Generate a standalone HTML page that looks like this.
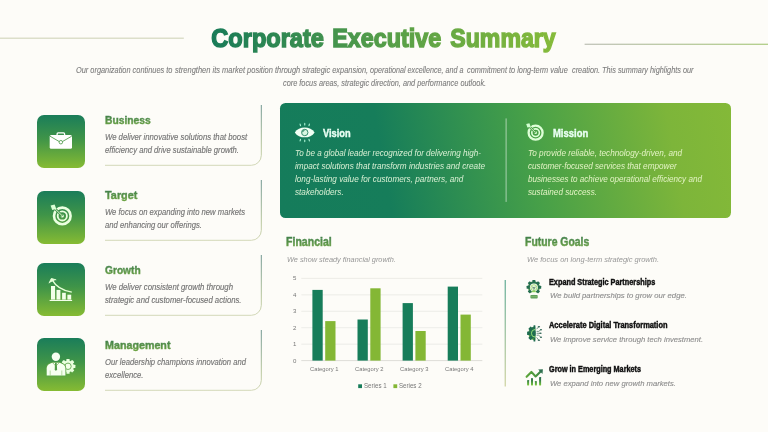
<!DOCTYPE html>
<html lang="en"><head><meta charset="utf-8"><title>Corporate Executive Summary</title>
<style>
html,body{margin:0;padding:0;background:#fdfcf8;}
#slide{position:relative;width:768px;height:432px;overflow:hidden;background:#fdfcf8;font-family:"Liberation Sans",sans-serif;}
.t{position:absolute;white-space:nowrap;line-height:1;transform-origin:0 0;display:block;}
.b{font-weight:bold;}
.i{font-style:italic;}
.r{font-weight:normal;}
.ttl,.hd{padding:0.1em 0.1em 0.3em 0.1em;margin:-0.1em -0.1em -0.3em -0.1em;}
.ttl{-webkit-text-stroke:1.5px transparent;background:linear-gradient(90deg,#177a58 0%,#4f9a4a 45%,#86bb3a 100%);-webkit-background-clip:text;background-clip:text;color:transparent;}
.sub{color:#7c7c7c;-webkit-text-stroke:0.1px #7c7c7c;}
.hc{-webkit-text-stroke:0.45px transparent;}
.h2{-webkit-text-stroke:0.5px transparent;}
.hd{background:linear-gradient(180deg,#44824a 15%,#76ab44 90%);-webkit-background-clip:text;background-clip:text;color:transparent;}
.desc{color:#737373;-webkit-text-stroke:0.15px #737373;}
.l2{color:#979797 !important;-webkit-text-stroke:0 !important;}
.lite{color:#8c8c8c;-webkit-text-stroke:0.12px #8c8c8c;}
.wh{color:#eafff4;-webkit-text-stroke:0.4px #eafff4;}
.pv{color:#d9f0d4;}
.pm{color:#e3f3c4;}
.blk{color:#111111;-webkit-text-stroke:0.45px #111;}
.ax{color:#777777;}
.ibox{position:absolute;left:37.2px;width:47.8px;height:53px;border-radius:7px;background:linear-gradient(180deg,#1a7d5a 0%,#3f9448 45%,#86bb33 100%);}
#panel{position:absolute;left:279.8px;top:102.7px;width:451.3px;height:115.1px;border-radius:5.5px;background:linear-gradient(80deg,#157c5b 0%,#167d5a 24%,#47a048 56%,#7db53a 86%,#84b938 100%);}
svg{position:absolute;left:0;top:0;}

</style></head>
<body>
<div id="slide">
<div class="ibox" style="top:114.5px"></div>
<div class="ibox" style="top:190.5px"></div>
<div class="ibox" style="top:263.4px"></div>
<div class="ibox" style="top:337.8px"></div>
<div id="panel"></div>
<svg width="768" height="432" viewBox="0 0 768 432">
<defs>
<linearGradient id="gr" x1="0" y1="0" x2="1" y2="0"><stop offset="0" stop-color="#b6b9ae"/><stop offset="1" stop-color="#a2c572"/></linearGradient>
<linearGradient id="gb" x1="0" y1="0" x2="0" y2="1"><stop offset="0" stop-color="#6f9690"/><stop offset="0.7" stop-color="#b7c69c"/><stop offset="1" stop-color="#d3d8b8"/></linearGradient>
<linearGradient id="gv" x1="0" y1="0" x2="0" y2="1"><stop offset="0" stop-color="#3f9a80"/><stop offset="1" stop-color="#c3c98c"/></linearGradient>
<linearGradient id="gi" x1="0" y1="0" x2="0" y2="1"><stop offset="0" stop-color="#1f7d55"/><stop offset="1" stop-color="#86c03a"/></linearGradient>
<linearGradient id="gi1" gradientUnits="userSpaceOnUse" x1="0" y1="280" x2="0" y2="295"><stop offset="0" stop-color="#256e50"/><stop offset="0.55" stop-color="#4f9650"/><stop offset="1" stop-color="#90c860"/></linearGradient>
<linearGradient id="gi2" gradientUnits="userSpaceOnUse" x1="0" y1="325" x2="0" y2="341.5"><stop offset="0" stop-color="#1f6c50"/><stop offset="1" stop-color="#66b23a"/></linearGradient>
<linearGradient id="gi3" gradientUnits="userSpaceOnUse" x1="526" y1="0" x2="543" y2="0"><stop offset="0" stop-color="#5ea63a"/><stop offset="0.6" stop-color="#4a963f"/><stop offset="1" stop-color="#2f7350"/></linearGradient>
<linearGradient id="gi4" gradientUnits="userSpaceOnUse" x1="0" y1="377" x2="0" y2="385.5"><stop offset="0" stop-color="#286a50"/><stop offset="0.45" stop-color="#3d8448"/><stop offset="1" stop-color="#7ccc3c"/></linearGradient>
</defs>
<!-- title rules -->
<rect x="0" y="37.6" width="183.8" height="1.2" fill="#d4d7bf"/>
<rect x="584.6" y="43.7" width="183.4" height="1.1" fill="url(#gr)"/>
<!-- brackets -->
<g fill="none" stroke="url(#gb)" stroke-width="1">
<path d="M261.3 105V155.3a10 10 0 0 1 -10 10H105"/>
<path d="M261.3 180V230.3a10 10 0 0 1 -10 10H105"/>
<path d="M261.3 255V305.3a10 10 0 0 1 -10 10H105"/>
<path d="M261.3 330V380.3a10 10 0 0 1 -10 10H105"/>
</g>
<!-- panel divider -->
<rect x="505.6" y="118.4" width="1" height="83.5" fill="#ffffff" fill-opacity="0.55"/>
<!-- lower divider -->
<rect x="504.7" y="280" width="1" height="106.5" fill="url(#gv)"/>
<!-- chart -->
<g stroke="#e8e8e3" stroke-width="0.8">
<path d="M301.3 278.4H482.3M301.3 294.8H482.3M301.3 311.3H482.3M301.3 327.7H482.3M301.3 344.2H482.3"/>
</g>
<path d="M301.3 360.6H482.3" stroke="#d4d4cf" stroke-width="0.8"/>
<g fill="#177d5a">
<rect x="312.4" y="289.9" width="10.3" height="70.7"/>
<rect x="357.5" y="319.5" width="10.3" height="41.1"/>
<rect x="402.6" y="303.1" width="10.3" height="57.5"/>
<rect x="447.7" y="286.6" width="10.3" height="74"/>
<rect x="358.2" y="384.3" width="3.8" height="3.8"/>
</g>
<g fill="#84b735">
<rect x="325.2" y="321.1" width="10.3" height="39.5"/>
<rect x="370.3" y="288.3" width="10.3" height="72.3"/>
<rect x="415.4" y="331" width="10.3" height="29.6"/>
<rect x="460.5" y="314.6" width="10.3" height="46"/>
<rect x="393.4" y="384.3" width="3.8" height="3.8"/>
</g>
<!-- briefcase -->
<g>
<path d="M57.1 135.3V133.9a1 1 0 0 1 1-1h5.5a1 1 0 0 1 1 1v1.4" fill="none" stroke="#fff" stroke-width="1.3"/>
<rect x="49.7" y="135" width="22.3" height="13.7" rx="1.5" fill="#fff"/>
<path d="M50 136.2L59.3 141.6M71.7 136.2L62.4 141.6" fill="none" stroke="#4a9947" stroke-width="0.85"/>
<circle cx="60.85" cy="142.2" r="1.75" fill="#fff" stroke="#4a9947" stroke-width="0.85"/>
</g>
<!-- target -->
<g>
<circle cx="62.3" cy="215.9" r="8.3" fill="none" stroke="#ebffe0" stroke-width="2.6"/>
<circle cx="62.3" cy="215.9" r="4.6" fill="none" stroke="#ebffe0" stroke-width="1.8"/>
<circle cx="62.3" cy="215.9" r="1.6" fill="#ebffe0"/>
<path d="M53.6 207.4L62.3 215.9" stroke="#44964a" stroke-width="2.6" fill="none"/>
<path d="M54.5 208.3L62.1 215.7" stroke="#ebffe0" stroke-width="0.9" fill="none"/>
<path d="M50.6 205.6L54.6 204.6L56.3 209L52.2 209.9Z" fill="#dcffd6"/>
</g>
<!-- growth -->
<g fill="#f3ffe9">
<rect x="51" y="286" width="4.1" height="13.6"/>
<rect x="56.5" y="289.9" width="3.9" height="9.7"/>
<rect x="62.1" y="292.8" width="3.7" height="6.8"/>
<rect x="67.4" y="294.7" width="3.8" height="4.9"/>
<rect x="49.6" y="299.9" width="22.5" height="1.1"/>
<path d="M71.8 292.1C62 290.5 55.5 286 52 279.6" fill="none" stroke="#e6ffd8" stroke-width="1.35"/>
<path d="M49.2 282.9L51.3 278.5L55.9 279.8" fill="#e6ffd8" stroke="#e6ffd8" stroke-width="1.0" stroke-linejoin="round" stroke-linecap="round"/>
</g>
<!-- management -->
<g>
<g fill="#e9ffde">
<circle cx="68" cy="366.3" r="5.9"/>
<g transform="translate(68 366.3)">
<rect x="-1.6" y="-7.4" width="3.2" height="14.8" rx="0.5"/>
<rect x="-1.6" y="-7.4" width="3.2" height="14.8" rx="0.5" transform="rotate(45)"/>
<rect x="-1.6" y="-7.4" width="3.2" height="14.8" rx="0.5" transform="rotate(90)"/>
<rect x="-1.6" y="-7.4" width="3.2" height="14.8" rx="0.5" transform="rotate(135)"/>
</g>
</g>
<circle cx="68" cy="366.3" r="3.2" fill="#f3ffe9" stroke="#55a044" stroke-width="0.8"/>
<path d="M45.9 376.4V368.6C45.9 364.6 49 362.6 52.6 362.1H59.2C62.8 362.6 66.2 364.6 66.2 368.6V376.4Z" fill="#5aa343"/>
<path d="M46.7 375.6V368.6C46.7 365.1 49.5 363.3 52.8 362.8H59C62.3 363.3 65.4 365.1 65.4 368.6V375.6Z" fill="#f6fff0"/>
<circle cx="55.9" cy="356.8" r="4.2" fill="#f6fff0"/>
<path d="M55.1 362.8H56.7L57.1 369.6L55.9 371L54.7 369.6Z" fill="#4f9c46"/>
<path d="M52.8 362.9L55.9 366.2L59 362.9" fill="none" stroke="#5aa343" stroke-width="0.6"/>
<path d="M50.2 370.5V375.6M61.8 370.5V375.6" stroke="#8cc56e" stroke-width="0.6"/>
</g>
<!-- eye -->
<g>
<path d="M294.8 132.4C298.8 125.8 310.6 125.8 314.6 132.4C310.6 139 298.8 139 294.8 132.4Z" fill="#f1fff4"/>
<circle cx="304.75" cy="132.5" r="3.2" fill="#d9f7e2" stroke="#1b7a59" stroke-width="0.85"/>
<path d="M302.6 132.3A2.1 2.1 0 0 1 304.6 130.3" fill="none" stroke="#1b7a59" stroke-width="0.9"/>
<g stroke="#a6f2d2" stroke-width="1.15" stroke-linecap="round">
<path d="M300.5 125.6L300.1 124.1M304.75 125L304.75 123.4M309 125.6L309.4 124.1"/>
<path d="M300.5 139.4L300.1 140.9M304.75 140L304.75 141.6M309 139.4L309.4 140.9"/>
</g>
</g>
<!-- mission target -->
<g>
<circle cx="535.6" cy="132.7" r="7" fill="none" stroke="#dfffd8" stroke-width="2.3"/>
<circle cx="535.6" cy="132.7" r="3.8" fill="none" stroke="#dfffd8" stroke-width="1.6"/>
<circle cx="535.6" cy="132.7" r="1.4" fill="#dfffd8"/>
<path d="M528.2 125.4L535.6 132.7" stroke="#4ea048" stroke-width="2.2" fill="none"/>
<path d="M529 126.2L535.4 132.5" stroke="#dfffd8" stroke-width="0.8" fill="none"/>
<path d="M526.2 124L529.4 123.3L530.8 126.9L527.4 127.6Z" fill="#d2ffd0"/>
</g>
<!-- goal icon 1: gear + bulb -->
<g>
<g fill="url(#gi1)">
<circle cx="533.9" cy="287.3" r="6"/>
<g transform="translate(533.9 287.3)">
<rect x="-1.5" y="-7.3" width="3" height="14.6" rx="0.5"/>
<rect x="-1.5" y="-7.3" width="3" height="14.6" rx="0.5" transform="rotate(45)"/>
<rect x="-1.5" y="-7.3" width="3" height="14.6" rx="0.5" transform="rotate(90)"/>
<rect x="-1.5" y="-7.3" width="3" height="14.6" rx="0.5" transform="rotate(135)"/>
</g>
</g>
<circle cx="533.9" cy="287.6" r="4" fill="#fbfdf4"/>
<rect x="531.8" y="290.6" width="4.2" height="4.3" fill="#fbfdf4"/>
<circle cx="533.9" cy="287.7" r="3" fill="#f1fbe4" stroke="#93d863" stroke-width="0.8"/>
<path d="M532.5 286.6L533.2 288.6L533.9 286.9L534.6 288.6L535.3 286.6M533.9 288.8V290.6" fill="none" stroke="#356f4c" stroke-width="0.6"/>
<rect x="532" y="291" width="3.8" height="1.2" fill="#8ccf5c"/>
<rect x="530.4" y="294.9" width="7.3" height="3.6" rx="0.9" fill="#5f9f5c"/>
<path d="M530.4 296.7H537.7" stroke="#9fd07c" stroke-width="0.5"/>
</g>
<!-- goal icon 2: half gear + circuits -->
<g>
<clipPath id="cpL"><rect x="520" y="320" width="15.3" height="30"/></clipPath>
<g clip-path="url(#cpL)">
<g fill="url(#gi2)">
<circle cx="535.2" cy="333.3" r="6.9"/>
<g transform="translate(535.2 333.3)">
<rect x="-1.7" y="-8.1" width="3.4" height="16.2" rx="0.5"/>
<rect x="-1.7" y="-8.1" width="3.4" height="16.2" rx="0.5" transform="rotate(45)"/>
<rect x="-1.7" y="-8.1" width="3.4" height="16.2" rx="0.5" transform="rotate(90)"/>
<rect x="-1.7" y="-8.1" width="3.4" height="16.2" rx="0.5" transform="rotate(135)"/>
</g>
</g>
<circle cx="535.2" cy="333.3" r="3.8" fill="none" stroke="#a2ee7c" stroke-width="0.9"/>
</g>
<g stroke="#3d6f5a" stroke-width="0.7" fill="none">
<path d="M536.6 329.2L538.6 326.9"/>
<path d="M536.6 331.4H538.6L540.6 330"/>
<path d="M536.6 333.3H540"/>
<path d="M536.6 335.2H538.6L540.6 337"/>
<path d="M536.6 337.4L538.6 340"/>
</g>
<g fill="#35695a">
<ellipse cx="538.9" cy="326.7" rx="1.2" ry="0.8"/><ellipse cx="541" cy="329.8" rx="1.1" ry="0.8"/><ellipse cx="540.5" cy="333.3" rx="1.2" ry="0.8"/><ellipse cx="541" cy="337.2" rx="1.1" ry="0.8"/><ellipse cx="538.9" cy="340.3" rx="1.2" ry="0.8"/>
</g>
</g>
<!-- goal icon 3: chart arrow -->
<g>
<path d="M526.6 376.8L531.4 371.9L535.6 376.5L540.9 371.2" fill="none" stroke="url(#gi3)" stroke-width="2.1" stroke-linejoin="round" stroke-linecap="round"/>
<path d="M538.2 369.6L542.9 369.2L542.5 373.9Z" fill="#2f7050"/>
<g fill="url(#gi4)">
<rect x="527.1" y="380" width="2" height="5.5" rx="0.4"/>
<rect x="531" y="378" width="2" height="7.5" rx="0.4"/>
<rect x="534.9" y="381.1" width="2" height="4.4" rx="0.4"/>
<rect x="539.1" y="377" width="2" height="8.5" rx="0.4"/>
</g>
</g>

</svg>

<span class="t b ttl" style="left:211.30px;top:25.25px;font-size:26.4px;transform:scaleX(0.8921);background-image:linear-gradient(90deg,#177a58,#2b8653,#40914e);">Corporate</span>
<span class="t b ttl" style="left:332.40px;top:25.25px;font-size:26.4px;transform:scaleX(0.8829);background-image:linear-gradient(90deg,#43934d,#559e48,#65a744);">Executive</span>
<span class="t b ttl" style="left:450.60px;top:25.25px;font-size:26.4px;transform:scaleX(0.8763);background-image:linear-gradient(90deg,#67a943,#77b23e,#86bb3a);">Summary</span>
<span class="t i sub" style="left:76.00px;top:66.37px;font-size:8.3px;transform:scaleX(0.8894);">Our organization continues to</span>
<span class="t i sub" style="left:174.75px;top:66.37px;font-size:8.3px;transform:scaleX(0.9038);">strengthen its market position</span>
<span class="t i sub" style="left:274.70px;top:66.37px;font-size:8.3px;transform:scaleX(0.8930);">through strategic expansion,</span>
<span class="t i sub" style="left:370.20px;top:66.37px;font-size:8.3px;transform:scaleX(0.8662);">operational excellence, and a</span>
<span class="t i sub" style="left:466.70px;top:66.37px;font-size:8.3px;transform:scaleX(0.8849);">commitment to long-term value</span>
<span class="t i sub" style="left:571.50px;top:66.37px;font-size:8.3px;transform:scaleX(0.8812);">creation. This summary highlights our</span>
<span class="t i sub" style="left:282.50px;top:78.57px;font-size:8.3px;transform:scaleX(0.8843);">core focus areas, strategic direction, and performance outlook.</span>
<span class="t b hd hc" style="left:105.10px;top:115.46px;font-size:10.8px;transform:scaleX(0.9518);">Business</span>
<span class="t i desc" style="left:105.00px;top:133.15px;font-size:8.8px;transform:scaleX(0.8794);">We deliver innovative solutions that boost</span>
<span class="t i desc" style="left:105.00px;top:146.45px;font-size:8.8px;transform:scaleX(0.8727);">efficiency and drive sustainable growth.</span>
<span class="t b hd hc" style="left:105.10px;top:190.46px;font-size:10.8px;transform:scaleX(0.9999);">Target</span>
<span class="t i desc" style="left:105.00px;top:208.15px;font-size:8.8px;transform:scaleX(0.8711);">We focus on expanding into new markets</span>
<span class="t i desc" style="left:105.00px;top:221.45px;font-size:8.8px;transform:scaleX(0.8689);">and enhancing our offerings.</span>
<span class="t b hd hc" style="left:105.10px;top:265.46px;font-size:10.8px;transform:scaleX(0.9419);">Growth</span>
<span class="t i desc" style="left:105.00px;top:283.15px;font-size:8.8px;transform:scaleX(0.8853);">We deliver consistent growth through</span>
<span class="t i desc" style="left:105.00px;top:296.45px;font-size:8.8px;transform:scaleX(0.8787);">strategic and customer-focused actions.</span>
<span class="t b hd hc" style="left:105.10px;top:340.46px;font-size:10.8px;transform:scaleX(0.9909);">Management</span>
<span class="t i desc" style="left:105.00px;top:358.15px;font-size:8.8px;transform:scaleX(0.8684);">Our leadership champions innovation and</span>
<span class="t i desc" style="left:105.00px;top:371.45px;font-size:8.8px;transform:scaleX(0.8727);">excellence.</span>
<span class="t b wh" style="left:323.40px;top:127.84px;font-size:10.7px;transform:scaleX(0.8659);">Vision</span>
<span class="t b wh" style="left:552.80px;top:127.84px;font-size:10.7px;transform:scaleX(0.8845);">Mission</span>
<span class="t i pv" style="left:295.00px;top:149.43px;font-size:9.3px;transform:scaleX(0.8707);">To be a global leader recognized for delivering high-</span>
<span class="t i pv" style="left:295.00px;top:162.13px;font-size:9.3px;transform:scaleX(0.8817);">impact solutions that transform industries and create</span>
<span class="t i pv" style="left:295.00px;top:174.83px;font-size:9.3px;transform:scaleX(0.8807);">long-lasting value for customers, partners, and</span>
<span class="t i pv" style="left:295.00px;top:187.53px;font-size:9.3px;transform:scaleX(0.8807);">stakeholders.</span>
<span class="t i pm" style="left:527.90px;top:149.43px;font-size:9.3px;transform:scaleX(0.8813);">To provide reliable, technology-driven, and</span>
<span class="t i pm" style="left:527.90px;top:162.13px;font-size:9.3px;transform:scaleX(0.8783);">customer-focused services that empower</span>
<span class="t i pm" style="left:527.90px;top:174.83px;font-size:9.3px;transform:scaleX(0.8717);">businesses to achieve operational efficiency and</span>
<span class="t i pm" style="left:527.90px;top:187.53px;font-size:9.3px;transform:scaleX(0.8783);">sustained success.</span>
<span class="t b hd h2" style="left:285.90px;top:235.87px;font-size:12.2px;transform:scaleX(0.8651);">Financial</span>
<span class="t i lite l2" style="left:286.90px;top:256.07px;font-size:7.0px;transform:scaleX(1.0495);">We show steady financial growth.</span>
<span class="t b hd h2" style="left:525.30px;top:235.87px;font-size:12.2px;transform:scaleX(0.8540);">Future Goals</span>
<span class="t i lite l2" style="left:526.50px;top:256.27px;font-size:7.0px;transform:scaleX(1.0688);">We focus on long-term strategic growth.</span>
<span class="t b blk" style="left:549.30px;top:277.65px;font-size:8.8px;transform:scaleX(0.8291);">Expand Strategic Partnerships</span>
<span class="t i lite" style="left:549.70px;top:292.43px;font-size:8.0px;transform:scaleX(0.9660);">We build partnerships to grow our edge.</span>
<span class="t b blk" style="left:549.30px;top:321.40px;font-size:8.8px;transform:scaleX(0.8445);">Accelerate Digital Transformation</span>
<span class="t i lite" style="left:549.70px;top:336.18px;font-size:8.0px;transform:scaleX(0.9573);">We improve service through tech investment.</span>
<span class="t b blk" style="left:549.30px;top:365.15px;font-size:8.8px;transform:scaleX(0.8255);">Grow in Emerging Markets</span>
<span class="t i lite" style="left:549.70px;top:379.93px;font-size:8.0px;transform:scaleX(0.9575);">We expand into new growth markets.</span>
<span class="t r ax" style="left:292.70px;top:357.62px;font-size:6px;transform:scaleX(1.0168);">0</span>
<span class="t r ax" style="left:292.70px;top:341.18px;font-size:6px;transform:scaleX(1.0168);">1</span>
<span class="t r ax" style="left:292.70px;top:324.74px;font-size:6px;transform:scaleX(1.0168);">2</span>
<span class="t r ax" style="left:292.70px;top:308.30px;font-size:6px;transform:scaleX(1.0168);">3</span>
<span class="t r ax" style="left:292.70px;top:291.86px;font-size:6px;transform:scaleX(1.0168);">4</span>
<span class="t r ax" style="left:292.70px;top:275.42px;font-size:6px;transform:scaleX(1.0168);">5</span>
<span class="t r ax" style="left:309.65px;top:367.39px;font-size:5.8px;transform:scaleX(1.0014);">Category 1</span>
<span class="t r ax" style="left:354.75px;top:367.39px;font-size:5.8px;transform:scaleX(1.0014);">Category 2</span>
<span class="t r ax" style="left:399.85px;top:367.39px;font-size:5.8px;transform:scaleX(1.0014);">Category 3</span>
<span class="t r ax" style="left:444.95px;top:367.39px;font-size:5.8px;transform:scaleX(1.0014);">Category 4</span>
<span class="t r ax" style="left:364.20px;top:382.90px;font-size:6.5px;transform:scaleX(0.9514);">Series 1</span>
<span class="t r ax" style="left:398.90px;top:382.90px;font-size:6.5px;transform:scaleX(0.9472);">Series 2</span>
</div>
</body></html>
